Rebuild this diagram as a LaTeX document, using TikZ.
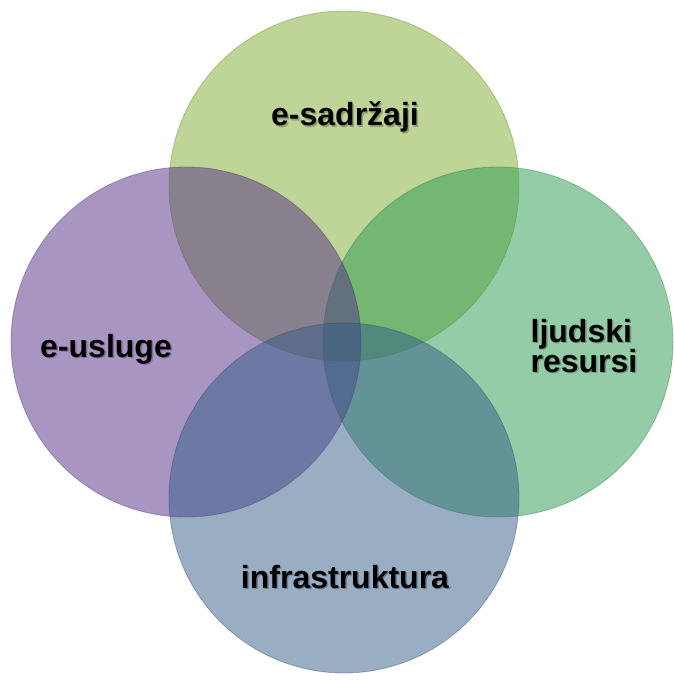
\documentclass[tikz,border=0pt]{standalone}
\usepackage{fontspec}
\setmainfont{Liberation Sans}
\definecolor{ctop}{RGB}{129,171,49}
\definecolor{cright}{RGB}{41,155,81}
\definecolor{cleft}{RGB}{85,45,135}
\definecolor{cbottom}{RGB}{52,92,136}
\begin{document}
\begin{tikzpicture}[x=1pt,y=-1pt,
  venn/.style={circle,minimum size=350pt,inner sep=0pt,fill=#1,fill opacity=0.5,draw=#1!70!black,draw opacity=0.35,line width=0.8pt},
  lbl/.style={font=\fontsize{32}{30}\selectfont\bfseries,text=black,inner sep=0pt,align=left},
  shd/.style={lbl,text=black,text opacity=0.25}]
\useasboundingbox (0,0) rectangle (674,680);
\fill[white] (0,0) rectangle (674,680);
\node[venn=ctop] (top) at (344,186) {};
\node[venn=cright] (right) at (498,342) {};
\node[venn=cleft] (left) at (186,342) {};
\node[venn=cbottom] (bottom) at (344,498) {};
% label shadows
\node[shd] (s1) at (346.5,118.5) {e-sadržaji};
\node[shd] (s2) at (585.5,347.5) {ljudski\\resursi};
\node[shd] (s3) at (107.5,350.5) {e-usluge};
\node[shd] (s4) at (346.5,578.5) {infrastruktura};
% labels
\node[lbl] (t1) at (345,117) {e-sadržaji};
\node[lbl] (t2) at (584,346) {ljudski\\resursi};
\node[lbl] (t3) at (106,349) {e-usluge};
\node[lbl] (t4) at (345,577) {infrastruktura};
\end{tikzpicture}
\end{document}
